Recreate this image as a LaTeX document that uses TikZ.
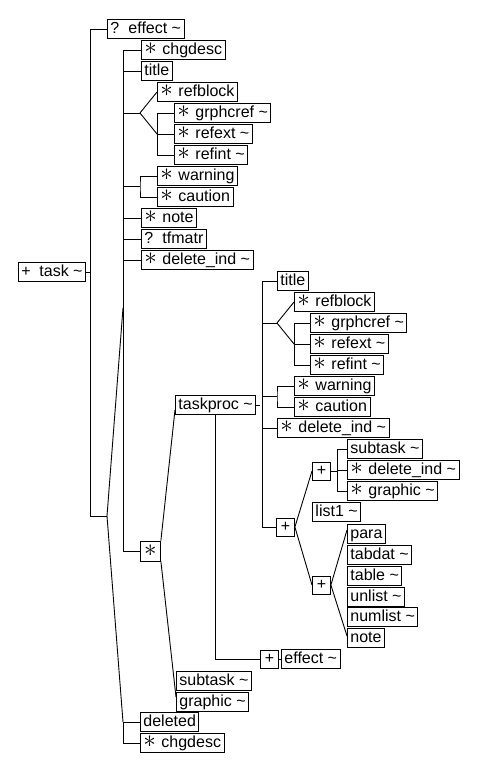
\documentclass[tikz,border=0pt]{standalone}
\usepackage{fontspec}
\usepackage{graphicx}
\setmainfont{Liberation Sans}
\usetikzlibrary{positioning}

\newcommand{\optsym}{\makebox[18pt][l]{?}}
\newcommand{\bigast}{\raisebox{-0.5pt}{\scalebox{1.45}{$\ast$}}}
\newcommand{\starsym}{\makebox[18pt][l]{\bigast}}
\newcommand{\plussym}{\makebox[18pt][l]{+}}
\newcommand{\tl}{ \textasciitilde}

\begin{document}
\begin{tikzpicture}[x=1pt, y=-1pt, line width=0.9pt,
  el/.style={draw, anchor=west, inner xsep=3pt, inner ysep=1.75pt,
    text height=12pt, text depth=3.5pt, font=\fontsize{16}{18}\selectfont},
  grp/.style={draw, anchor=west, minimum size=18pt, inner sep=0pt,
    font=\fontsize{16}{18}\selectfont}]
  \useasboundingbox (0,0) rectangle (485,768);

  \node[el] (task) at (18,272) {\plussym task\tl};
  \node[el] (eff1) at (107,29) {\optsym effect\tl};
  \node[el] (chg1) at (141,50) {\starsym chgdesc};
  \node[el] (tit1) at (141,71) {title};
  \node[el] (refb1) at (157,92) {\starsym refblock};
  \node[el] (grph1) at (174,113) {\starsym grphcref\tl};
  \node[el] (refx1) at (174,134) {\starsym refext\tl};
  \node[el] (refi1) at (174,155) {\starsym refint\tl};
  \node[el] (warn1) at (157,176) {\starsym warning};
  \node[el] (caut1) at (157,197) {\starsym caution};
  \node[el] (note1) at (141,218) {\starsym note};
  \node[el] (tfm1) at (141,239) {\optsym tfmatr};
  \node[el] (del1) at (141,260) {\starsym delete\_ind\tl};

  \node[grp, minimum size=20pt] (star) at (140,551) {\bigast};
  \node[el] (tproc) at (175,405) {taskproc\tl};
  \node[el] (tit2) at (277,281) {title};
  \node[el] (refb2) at (294,302) {\starsym refblock};
  \node[el] (grph2) at (310,323) {\starsym grphcref\tl};
  \node[el] (refx2) at (310,344) {\starsym refext\tl};
  \node[el] (refi2) at (310,365) {\starsym refint\tl};
  \node[el] (warn2) at (294,386) {\starsym warning};
  \node[el] (caut2) at (294,407) {\starsym caution};
  \node[el] (del2) at (277,428) {\starsym delete\_ind\tl};

  \node[grp] (plusA) at (276,527) {+};
  \node[grp] (plusB) at (312,471) {+};
  \node[el] (subt1) at (347,449) {subtask\tl};
  \node[el] (del3) at (347,470) {\starsym delete\_ind\tl};
  \node[el] (graph1) at (347,491) {\starsym graphic\tl};
  \node[el] (list) at (312,512) {list1\tl};
  \node[grp] (plusC) at (312,585) {+};
  \node[el] (para) at (347,534) {para};
  \node[el] (tabdat) at (347,555) {tabdat\tl};
  \node[el] (table) at (347,576) {table\tl};
  \node[el] (unlist) at (347,597) {unlist\tl};
  \node[el] (numlist) at (347,617) {numlist\tl};
  \node[el] (note2) at (347,638) {note};
  \node[grp] (plusD) at (260,659) {+};
  \node[el] (eff2) at (281,659) {effect\tl};

  \node[el] (subt2) at (176,681) {subtask\tl};
  \node[el] (graph2) at (176,702) {graphic\tl};
  \node[el] (deleted) at (140,722) {deleted};
  \node[el] (chg3) at (140,743) {\starsym chgdesc};

  \coordinate (j1) at (107,516);
  \coordinate (s1) at (123,308);
  \coordinate (s2) at (123,722);
  \coordinate (f1) at (140,113);
  \coordinate (w1) at (140,186);
  \coordinate (f2) at (277,323);
  \coordinate (w2) at (277,396);

  \draw (task.east) -- ++(4,0);
  \draw (eff1.west) -- ++(-17,0) |- (j1);
  \draw (s1) -- (j1) -- (s2);

  \draw (chg1.west) -- ++(-18,0) |- (star.west);
  \foreach \n in {tit1,note1,tfm1,del1}
    \draw (\n.west) -- ++(-18,0);
  \draw (f1) -- ++(-17,0);
  \draw (refb1.west) -- (f1) -- (refb1.west |- refx1.west);
  \draw (refb1.west |- grph1.west) -- (refb1.west |- refi1.west);
  \foreach \n in {grph1,refx1,refi1}
    \draw (\n.west) -- (refb1.west |- \n.west);
  \draw (w1) -- ++(-17,0);
  \draw (warn1.west) -| (w1) |- (caut1.west);
  \draw (deleted.west) -- ++(-17,0) |- (chg3.west);

  \draw (star.north east) -- ([yshift=5pt]tproc.south west);
  \draw (star.south east) -- ([yshift=5pt]graph2.west);

  \draw (tproc.east) -- ++(4,0);
  \draw (tit2.west) -- ++(-15,0) |- (plusA.west);
  \foreach \n in {f2,w2,del2.west}
    \draw (\n) -- ++(-15,0);
  \draw (refb2.west) -- (f2) -- (refb2.west |- refx2.west);
  \draw (refb2.west |- grph2.west) -- (refb2.west |- refi2.west);
  \foreach \n in {grph2,refx2,refi2}
    \draw (\n.west) -- (refb2.west |- \n.west);
  \draw (warn2.west) -| (w2) |- (caut2.west);

  \draw (tproc.south) |- (plusD.west);
  \draw (plusD.east) -- (eff2.west);

  \draw (plusB.west) -- (plusA.east) -- (plusC.west);
  \draw (plusB.east) -- ++(7,0);
  \draw (subt1.west) -- ++(-10,0) |- (graph1.west);
  \draw (del3.west) -- ++(-10,0);
  \draw ([yshift=4pt]para.west) -- (plusC.east) -- ([yshift=2pt]note2.west);
\end{tikzpicture}
\end{document}
